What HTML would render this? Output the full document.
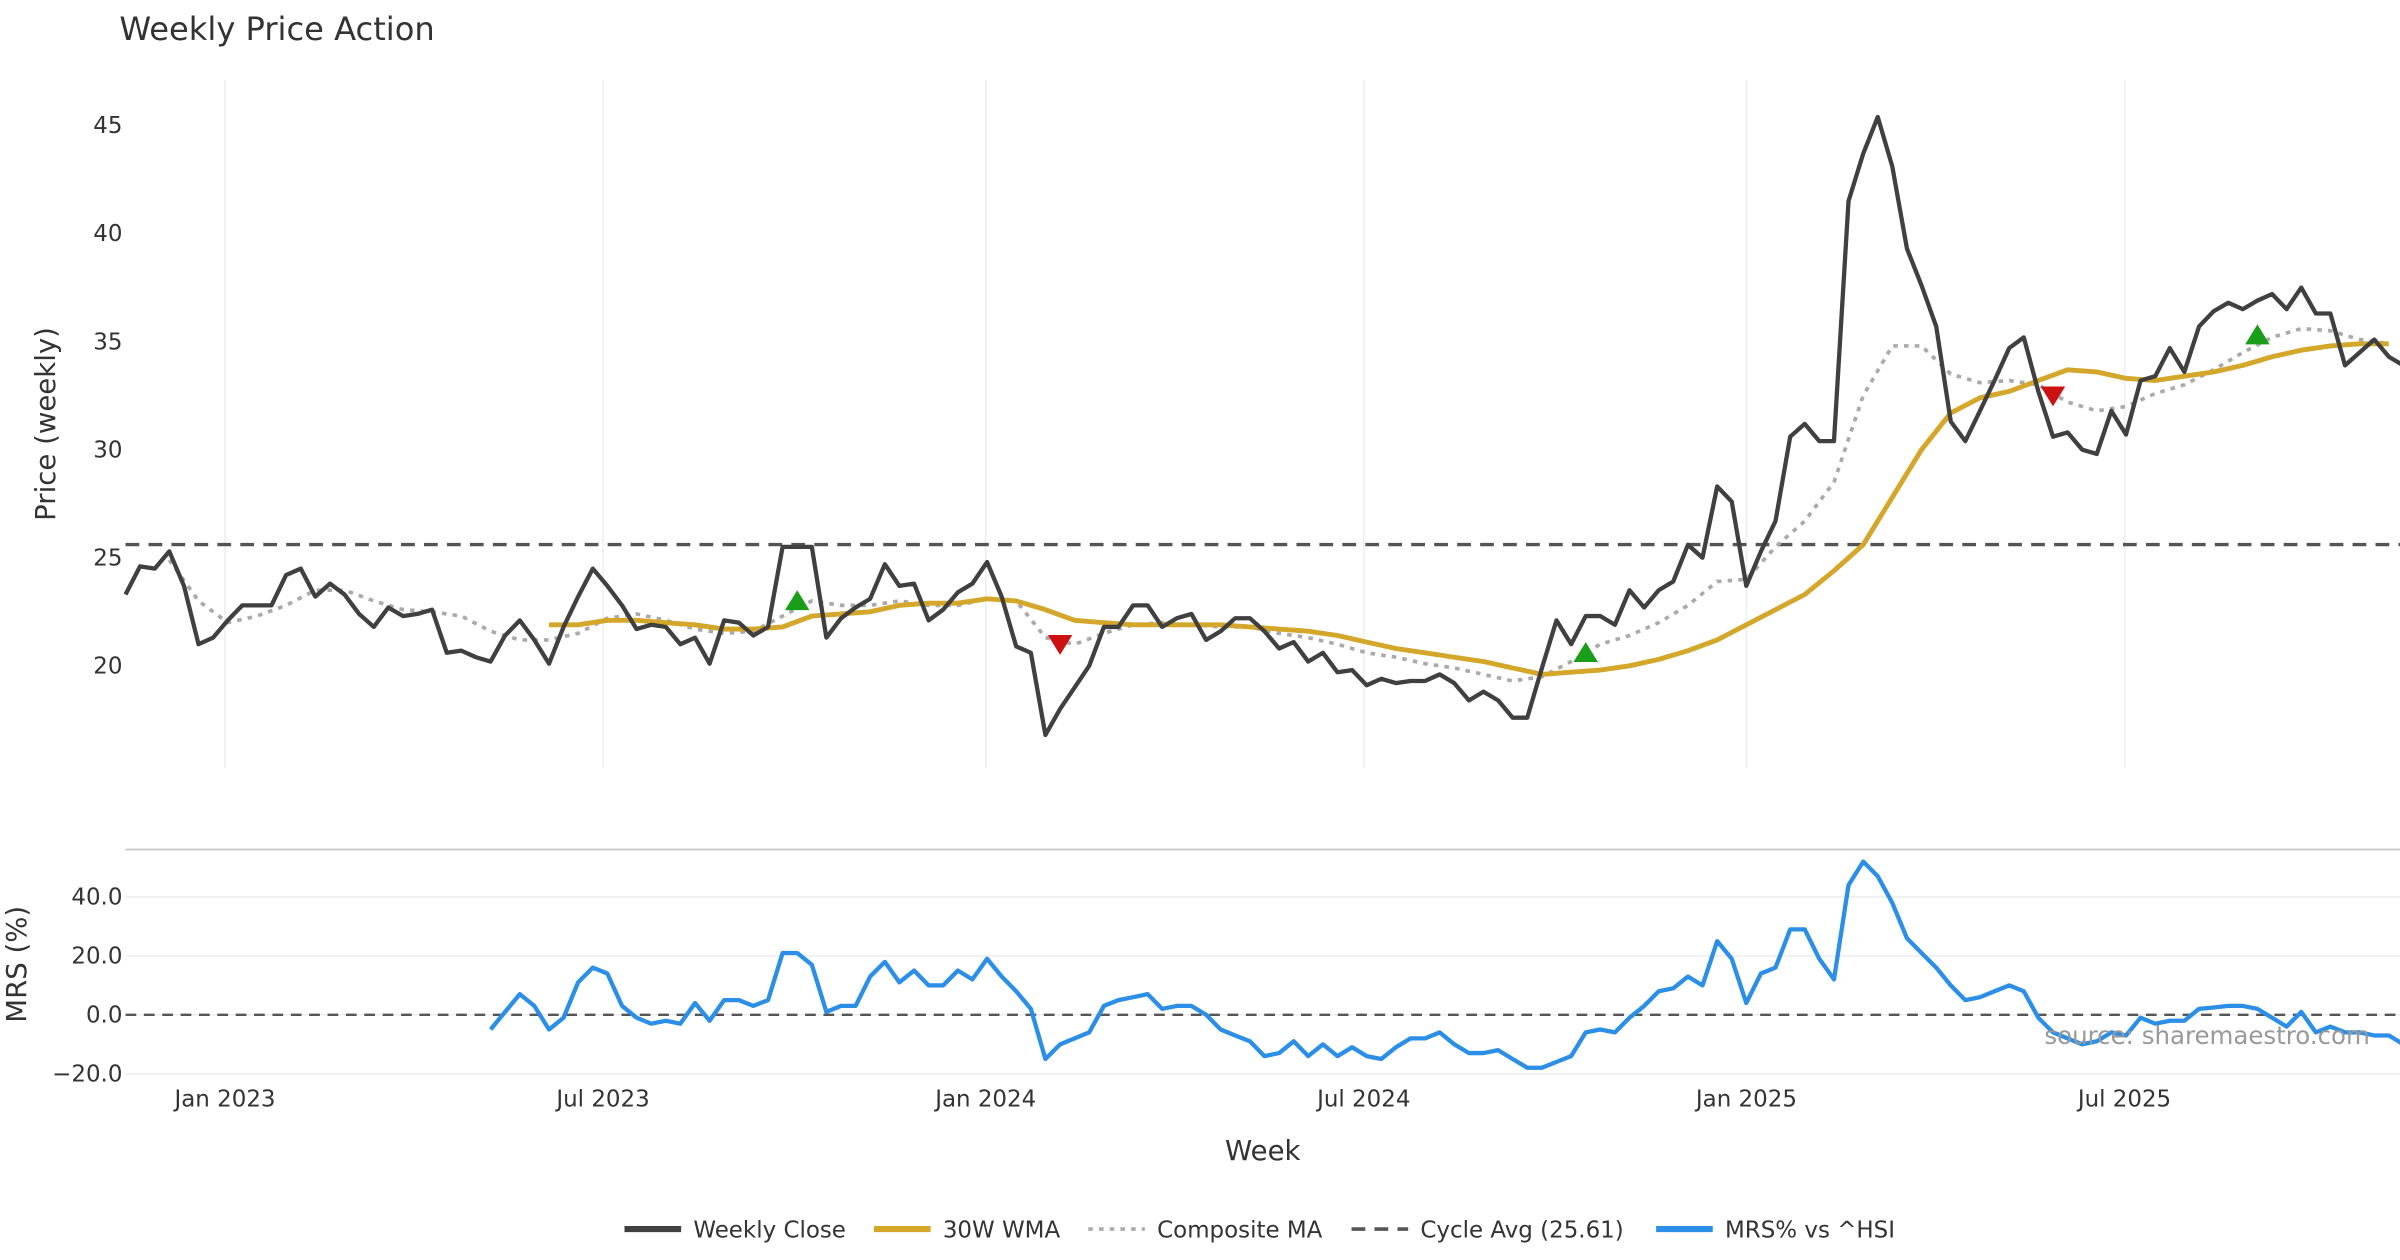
<!DOCTYPE html>
<html><head><meta charset="utf-8"><style>
html,body{margin:0;padding:0;background:#fff;}
svg{display:block;font-family:"DejaVu Sans","Liberation Sans",sans-serif;}
</style></head><body>
<svg id="chart" width="2400" height="1260" viewBox="0 0 1568 823.2" preserveAspectRatio="none" xmlns="http://www.w3.org/2000/svg">
<rect width="1568" height="823.2" fill="#fff"/>
<text x="78" y="26" font-size="21" fill="#333">Weekly Price Action</text>
<g id="grid"></g>
<g id="series"></g>
<text transform="translate(36,277) rotate(-90)" text-anchor="middle" font-size="18" fill="#333">Price (weekly)</text>
<text transform="translate(17,630) rotate(-90)" text-anchor="middle" font-size="18" fill="#333">MRS (%)</text>
<text x="825" y="758" text-anchor="middle" font-size="18" fill="#333">Week</text>
<text x="1442" y="682" text-anchor="middle" font-size="16" fill="#999">source: sharemaestro.com</text>
<g id="legend"></g>
</svg>
<script>
const closeVals=[23.3,24.6,24.5,25.3,23.7,21.0,21.3,22.1,22.8,22.8,22.8,24.2,24.5,23.2,23.8,23.3,22.4,21.8,22.7,22.3,22.4,22.6,20.6,20.7,20.4,20.2,21.4,22.1,21.2,20.1,21.8,23.2,24.5,23.7,22.8,21.7,21.9,21.8,21.0,21.3,20.1,22.1,22.0,21.4,21.8,25.5,25.5,25.5,21.3,22.2,22.7,23.1,24.7,23.7,23.8,22.1,22.6,23.4,23.8,24.8,23.2,20.9,20.6,16.8,18.0,19.0,20.0,21.8,21.8,22.8,22.8,21.8,22.2,22.4,21.2,21.6,22.2,22.2,21.6,20.8,21.1,20.2,20.6,19.7,19.8,19.1,19.4,19.2,19.3,19.3,19.6,19.2,18.4,18.8,18.4,17.6,17.6,19.9,22.1,21.0,22.3,22.3,21.9,23.5,22.7,23.5,23.9,25.6,25.0,28.3,27.6,23.7,25.3,26.7,30.6,31.2,30.4,30.4,41.5,43.7,45.4,43.1,39.3,37.6,35.7,31.3,30.4,31.8,33.2,34.7,35.2,32.7,30.6,30.8,30.0,29.8,31.8,30.7,33.2,33.4,34.7,33.6,35.7,36.4,36.8,36.5,36.9,37.2,36.5,37.5,36.3,36.3,33.9,34.5,35.1,34.3,33.9];
const wmaStart=29, wmaStep=2;
const wmaVals=[21.9,21.9,22.1,22.1,22.0,21.9,21.7,21.7,21.8,22.3,22.4,22.5,22.8,22.9,22.9,23.1,23.0,22.6,22.1,22.0,21.9,21.9,21.9,21.9,21.8,21.7,21.6,21.4,21.1,20.8,20.6,20.4,20.2,19.9,19.6,19.7,19.8,20.0,20.3,20.7,21.2,21.9,22.6,23.3,24.4,25.6,27.8,30.0,31.7,32.4,32.7,33.2,33.7,33.6,33.3,33.2,33.4,33.6,33.9,34.3,34.6,34.8,34.9,34.9];
const compStart=3, compStep=2;
const compVals=[24.9,23.0,22.0,22.3,22.8,23.5,23.5,23.0,22.6,22.5,22.3,21.6,21.2,21.2,21.5,22.2,22.4,22.1,21.7,21.5,21.6,22.3,23.0,22.8,22.8,23.0,22.8,22.8,23.1,23.0,21.3,21.0,21.5,21.9,22.0,21.9,21.8,21.8,21.5,21.3,21.0,20.6,20.4,20.1,19.9,19.6,19.3,19.5,20.2,21.0,21.4,22.0,22.8,23.9,24.0,25.5,26.7,28.5,32.5,34.8,34.8,33.5,33.1,33.2,33.0,32.2,31.8,32.0,32.6,33.0,33.7,34.5,35.2,35.6,35.5,35.1,34.9];
const mrsStart=25;
const mrsVals=[-5,1,7,3,-5,-1,11,16,14,3,-1,-3,-2,-3,4,-2,5,5,3,5,21,21,17,1,3,3,13,18,11,15,10,10,15,12,19,13,8,2,-15,-10,-8,-6,3,5,6,7,2,3,3,0,-5,-7,-9,-14,-13,-9,-14,-10,-14,-11,-14,-15,-11,-8,-8,-6,-10,-13,-13,-12,-15,-18,-18,-16,-14,-6,-5,-6,-1,3,8,9,13,10,25,19,4,14,16,29,29,19,12,44,52,47,38,26,21,16,10,5,6,8,10,8,-1,-6,-8,-10,-9,-6,-7,-1,-3,-2,-2,2,2.5,3,3,2,-1,-4,1,-6,-4,-6,-6,-7,-7,-10];
const buyIdx=[46,100,146], buyVals=[23.0,20.6,35.3];
const sellIdx=[64,132], sellVals=[21.0,32.5];
const cycleAvg=25.61;
const priceTicks=[20,25,30,35,40,45];
const mrsTicks=[-20,0,20,40];
const mrsTickLabels=["\u221220.0","0.0","20.0","40.0"];
const dateTickIdx=[6.8,32.6,58.7,84.6,110.8,136.6];
const dateTickLabels=["Jan 2023","Jul 2023","Jan 2024","Jul 2024","Jan 2025","Jul 2025"];

const NS="http://www.w3.org/2000/svg";
const X0=82, XW=9.54;
const xS=i=>X0+i*XW;
const yP=v=>435-(v-20)*14.12;
const yM=v=>663-v*1.925;
function mk(tag,attrs,parent){const e=document.createElementNS(NS,tag);for(const k in attrs)e.setAttribute(k,attrs[k]);parent.appendChild(e);return e;}
const grid=document.getElementById('grid'), ser=document.getElementById('series'), leg=document.getElementById('legend');
const dateX=[147,394,644,891,1141,1388];

dateTickIdx.forEach((d,k)=>{
  const gl=mk('line',{x1:dateX[k],x2:dateX[k],y1:52,y2:502,stroke:'#eceef0','stroke-width':1},grid);
  
  
  const t=mk('text',{x:dateX[k],y:723,'text-anchor':'middle','font-size':15,fill:'#333'},grid);
  t.textContent=dateTickLabels[k];
  
  
});
priceTicks.forEach(v=>{
  const t=mk('text',{x:80,y:yP(v)+5,'text-anchor':'end','font-size':15,fill:'#333'},grid);
  t.textContent=String(v);
  
  
});
mrsTicks.forEach((v,k)=>{
  const gl=mk('line',{x1:82,x2:1568,y1:yM(v),y2:yM(v),stroke:'#eceef0','stroke-width':1},grid);
  
  
  const t=mk('text',{x:80,y:yM(v)+5,'text-anchor':'end','font-size':15,fill:'#333'},grid);
  t.textContent=mrsTickLabels[k];
  
  
});
const sep=mk('line',{x1:82,x2:1568,y1:555,y2:555,stroke:'#ccc','stroke-width':1.3},grid);



function pts(vals,start,step,yf){return vals.map((v,k)=>xS(start+k*step).toFixed(1)+','+yf(v).toFixed(1)).join(' ');}
const ca=mk('line',{x1:82,x2:1568,y1:yP(cycleAvg),y2:yP(cycleAvg),stroke:'#555','stroke-width':2.2,'stroke-dasharray':'9,6'},ser);


const z=mk('line',{x1:82,x2:1568,y1:yM(0),y2:yM(0),stroke:'#555','stroke-width':1.5,'stroke-dasharray':'7,5'},ser);


const cm=mk('polyline',{points:pts(compVals,compStart,compStep,yP),fill:'none',stroke:'#aaa','stroke-width':2.4,'stroke-dasharray':'3,4'},ser);


const wm=mk('polyline',{points:pts(wmaVals,wmaStart,wmaStep,yP),fill:'none',stroke:'#d4a62a','stroke-width':3.2,'stroke-linejoin':'round'},ser);


const cl=mk('polyline',{points:pts(closeVals,0,1,yP),fill:'none',stroke:'#404040','stroke-width':2.8,'stroke-linejoin':'round'},ser);


const mr=mk('polyline',{points:pts(mrsVals,mrsStart,1,yM),fill:'none',stroke:'#2b8fe8','stroke-width':2.8,'stroke-linejoin':'round'},ser);


buyIdx.forEach((i,k)=>{const x=xS(i),y=yP(buyVals[k]);
  const m=mk('polygon',{points:`${x-8},${y+6} ${x+8},${y+6} ${x},${y-7}`,fill:'#1a9e1a'},ser);
  
  });
sellIdx.forEach((i,k)=>{const x=xS(i),y=yP(sellVals[k]);
  const m=mk('polygon',{points:`${x-8},${y-6} ${x+8},${y-6} ${x},${y+7}`,fill:'#cc1111'},ser);
  
  });

const legItems=[["Weekly Close","#404040",""],["30W WMA","#d4a62a",""],["Composite MA","#aaa","3,4"],["Cycle Avg (25.61)","#555","9,6"],["MRS% vs ^HSI","#2b8fe8",""]];
const legX=[408,571,711,883,1082];
legItems.forEach((it,k)=>{
  const g=mk('g',{},leg);
  
  
  mk('line',{x1:legX[k],x2:legX[k]+37,y1:803,y2:803,stroke:it[1],'stroke-width':it[2]?2.4:4,'stroke-dasharray':it[2]},g);
  const t=mk('text',{x:legX[k]+45,y:808.5,'font-size':15,fill:'#333'},g);
  t.textContent=it[0];
});
</script>
</body></html>
